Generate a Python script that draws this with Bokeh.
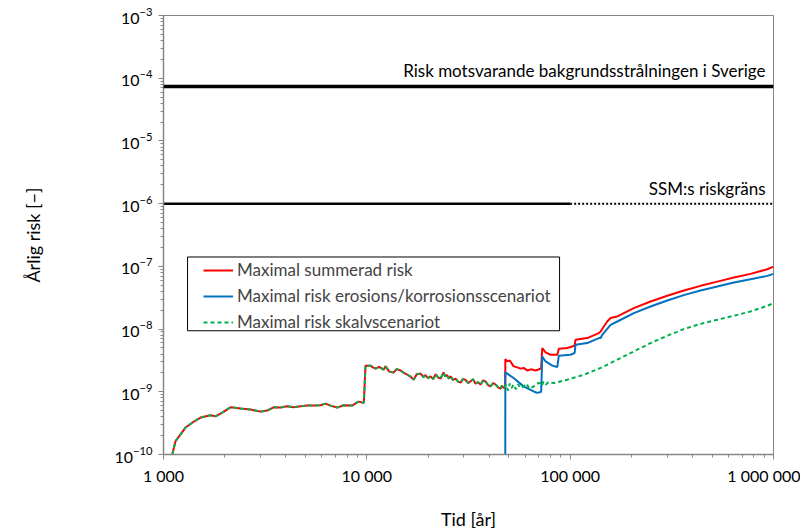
from bokeh.plotting import figure
from bokeh.models import (Label, Legend, LegendItem, CustomJSTickFormatter,
                          LogTicker, LogTickFormatter, Span, BoxAnnotation)
from bokeh.embed import file_html
from bokeh.resources import INLINE

# ---- data ----
# common part (all scenarios identical before the first erosion failure)
t_common = [1104, 1146, 1200, 1283, 1400, 1521, 1703, 1802, 1945, 2136, 2392,
            2679, 3000, 3236, 3475, 3765, 4058, 4357, 4721, 5093, 5470, 5918,
            6266, 6625, 7149, 7678, 8472, 9101, 9665, 9850, 10430, 10700,
            11040, 11500, 12080, 12360, 12900, 13530, 14000, 14650, 15200,
            15800, 16400, 16980, 17600, 18370, 19000, 19400, 20000, 20580,
            21200, 21800, 22400, 23050, 23840, 24300, 24800, 25300, 25820,
            26500, 27300, 28100, 28910, 29700, 30600, 31500, 32360, 33300,
            34200, 35200, 36240, 37300, 38400, 39500, 40560, 41800, 43000,
            44200, 45450, 46200, 47000, 47900]
risk_common = [1.0e-10, 1.63e-10, 2.0e-10, 2.69e-10, 3.3e-10, 3.88e-10,
               4.22e-10, 4.07e-10, 4.66e-10, 5.66e-10, 5.40e-10, 5.20e-10,
               4.83e-10, 5.01e-10, 5.66e-10, 5.60e-10, 5.87e-10, 5.66e-10,
               5.87e-10, 6.02e-10, 6.02e-10, 6.09e-10, 6.48e-10, 6.02e-10,
               5.60e-10, 6.09e-10, 6.02e-10, 6.97e-10, 6.65e-10, 2.61e-9,
               2.61e-9, 2.45e-9, 2.34e-9, 2.5e-9, 2.25e-9, 2.54e-9, 2.1e-9,
               2.02e-9, 2.3e-9, 2.19e-9, 2.0e-9, 1.87e-9, 1.75e-9, 1.56e-9,
               1.9e-9, 1.95e-9, 1.72e-9, 1.85e-9, 1.65e-9, 1.76e-9,
               1.6e-9, 1.9e-9, 1.7e-9, 1.62e-9, 2.04e-9, 1.75e-9,
               1.85e-9, 1.62e-9, 1.76e-9, 1.55e-9, 1.62e-9, 1.45e-9,
               1.40e-9, 1.6e-9, 1.55e-9, 1.38e-9, 1.47e-9, 1.58e-9,
               1.35e-9, 1.42e-9, 1.30e-9, 1.52e-9, 1.45e-9, 1.28e-9,
               1.22e-9, 1.38e-9, 1.3e-9, 1.18e-9, 1.12e-9, 1.25e-9,
               1.16e-9, 1.16e-9]

# summed risk after 48 000 years
t_sum_late = [48000, 49050, 50500, 52690, 55000, 57020, 59000, 61520, 64000,
              67610, 70960, 72000, 72900, 75680, 80140, 86430, 87950, 96800,
              105100, 106300, 121300, 138400, 141200, 145000, 152200, 158000,
              170600, 205700, 248400, 300400, 362200, 437700, 529500, 638300,
              771400, 931800, 1000000]
risk_sum_late = [3.33e-9, 3.05e-9, 3.15e-9, 2.54e-9, 2.45e-9, 2.34e-9, 2.4e-9,
                 2.19e-9, 2.28e-9, 2.19e-9, 2.31e-9, 2.4e-9, 4.99e-9, 4.25e-9,
                 3.90e-9, 3.90e-9, 4.86e-9, 4.99e-9, 5.42e-9, 6.76e-9, 7.19e-9,
                 8.63e-9, 9.16e-9, 1.05e-8, 1.32e-8, 1.50e-8, 1.59e-8, 2.16e-8,
                 2.75e-8, 3.39e-8, 4.11e-8, 4.89e-8, 5.71e-8, 6.62e-8, 7.59e-8,
                 9.0e-8, 9.9e-8]

# erosion / corrosion scenario
t_erosion = [47900, 48000, 52690, 59020, 67610, 69180, 72000, 72900, 75680,
             81660, 86430, 87950, 100400, 105100, 106300, 121300, 138400,
             141200, 143800, 158000, 170600, 205700, 248400, 300400, 362200,
             437700, 529500, 638300, 771400, 931800, 1000000]
risk_erosion = [1e-12, 2.04e-9, 1.66e-9, 1.22e-9, 9.8e-10, 9.6e-10, 1.0e-9,
                3.66e-9, 3.05e-9, 2.61e-9, 2.48e-9, 3.76e-9, 3.90e-9, 4.15e-9,
                5.62e-9, 5.98e-9, 7.19e-9, 7.19e-9, 8.11e-9, 1.17e-8, 1.32e-8,
                1.80e-8, 2.29e-8, 2.85e-8, 3.48e-8, 4.11e-8, 4.76e-8, 5.51e-8,
                6.24e-8, 7.05e-8, 7.59e-8]

# shear-load scenario after 48 000 years
t_shear_late = [48000, 49500, 50500, 51500, 52700, 54000, 55500, 57000, 59100,
                61000, 63000, 66330, 68500, 70960, 72500, 74000, 76000, 78000,
                83130, 96800, 116800, 141200, 170600, 205700, 248400, 300400,
                362200, 437700, 529500, 638300, 771400, 931800, 1000000]
risk_shear_late = [1.30e-9, 1.05e-9, 1.35e-9, 1.15e-9, 1.30e-9, 1.10e-9,
                   1.32e-9, 1.15e-9, 1.22e-9, 1.35e-9, 1.12e-9, 1.22e-9,
                   1.35e-9, 1.38e-9, 1.25e-9, 1.45e-9, 1.30e-9, 1.42e-9,
                   1.38e-9, 1.56e-9, 1.87e-9, 2.40e-9, 3.25e-9, 4.41e-9,
                   5.98e-9, 7.82e-9, 1.0e-8, 1.21e-8, 1.41e-8, 1.63e-8,
                   1.91e-8, 2.35e-8, 2.59e-8]

background_risk = 7.4e-5
ssm_limit = 1e-6
ssm_split = 100000

x_ticks = [1000, 10000, 100000, 1000000]
x_tick_labels = ["1 000", "10 000", "100 000", "1 000 000"]

series_names = ["Maximal summerad risk",
                "Maximal risk erosions/korrosionsscenariot",
                "Maximal risk skalvscenariot"]

# ---- figure ----
FONT = "Lato"
AX = "#868686"

p = figure(width=800, height=532, x_axis_type="log", y_axis_type="log",
           x_range=(1000, 1000000), y_range=(1e-10, 1e-3),
           output_backend="svg", toolbar_location=None,
           min_border_left=163, min_border_right=27, min_border_top=15,
           min_border_bottom=77)
p.outline_line_color = AX
p.outline_line_width = 1
p.grid.visible = False
p.background_fill_color = "white"
p.border_fill_color = "white"

fmt_code = """
let best = 0, bd = 1e9;
for (let i = 0; i < tvals.length; i++) {
  const d = Math.abs(Math.log10(tvals[i]) - Math.log10(tick));
  if (d < bd) { bd = d; best = i; }
}
return bd < 0.01 ? tlabels[best] : "";
"""
p.xaxis.ticker = LogTicker(desired_num_ticks=4, num_minor_ticks=10)
p.yaxis.ticker = LogTicker(desired_num_ticks=8, num_minor_ticks=10)
p.xaxis.formatter = CustomJSTickFormatter(args=dict(tvals=x_ticks, tlabels=x_tick_labels), code=fmt_code)
p.yaxis.formatter = LogTickFormatter()

for ax in (p.xaxis, p.yaxis):
    ax.axis_line_color = AX
    ax.axis_line_width = 1.5
    ax.major_tick_line_color = AX
    ax.minor_tick_line_color = AX
    ax.major_tick_out = 5
    ax.major_tick_in = 0
    ax.minor_tick_out = 3
    ax.minor_tick_in = 0
    ax.major_label_text_font = FONT
    ax.major_label_text_font_size = "16px"
    ax.major_label_text_color = "black"
    ax.axis_label_text_font = FONT
    ax.axis_label_text_font_size = "18px"
    ax.axis_label_text_font_style = "normal"
    ax.axis_label_text_color = "black"

p.xaxis.axis_label = "Tid [år]"
p.yaxis.axis_label = "Årlig risk [−]"
p.xaxis.major_label_standoff = 6
p.yaxis.major_label_standoff = 6
p.xaxis.axis_label_standoff = 20
p.yaxis.axis_label_standoff = 67

# reference lines
p.add_layout(Span(location=background_risk, dimension="width",
                  line_color="black", line_width=3.5))
p.line([1000, ssm_split], [ssm_limit, ssm_limit], line_color="black", line_width=2.5)
p.line([ssm_split, 1000000], [ssm_limit, ssm_limit], line_color="black",
       line_width=2, line_dash="2 2")

p.add_layout(Label(x=1000000, y=background_risk, text="Risk motsvarande bakgrundsstrålningen i Sverige",
                   text_align="right", text_baseline="bottom", x_offset=-8, y_offset=5,
                   text_font=FONT, text_font_size="17px", text_color="black"))
p.add_layout(Label(x=1000000, y=ssm_limit, text="SSM:s riskgräns",
                   text_align="right", text_baseline="bottom", x_offset=-8, y_offset=5,
                   text_font=FONT, text_font_size="17px", text_color="black"))

# series
t_sum = t_common + t_sum_late
r_sum = risk_common + risk_sum_late
t_shear = t_common + t_shear_late
r_shear = risk_common + risk_shear_late

r_red = p.line(t_sum, r_sum, line_color="#FF0000", line_width=2)
r_blue = p.line(t_erosion, risk_erosion, line_color="#0070C0", line_width=2)
r_green = p.line(t_shear, r_shear, line_color="#00B050", line_width=2,
                 line_dash="4 3")

# legend frame (layout box, placed in axis coordinates)
p.add_layout(BoxAnnotation(left=1313, right=88700, top=1.41e-7, bottom=9.4e-9,
                           fill_color="white", fill_alpha=1,
                           line_color="black", line_width=1, line_alpha=1))

legend = Legend(items=[LegendItem(label=series_names[0], renderers=[r_red]),
                       LegendItem(label=series_names[1], renderers=[r_blue]),
                       LegendItem(label=series_names[2], renderers=[r_green])],
                location=(40, 122), border_line_alpha=0,
                label_text_font=FONT, label_text_font_size="17px",
                glyph_width=30, glyph_height=20, label_height=20,
                label_standoff=4, spacing=5, padding=0, margin=0,
                background_fill_alpha=0)
p.add_layout(legend)

open("out.html", "w").write(file_html(p, INLINE))
